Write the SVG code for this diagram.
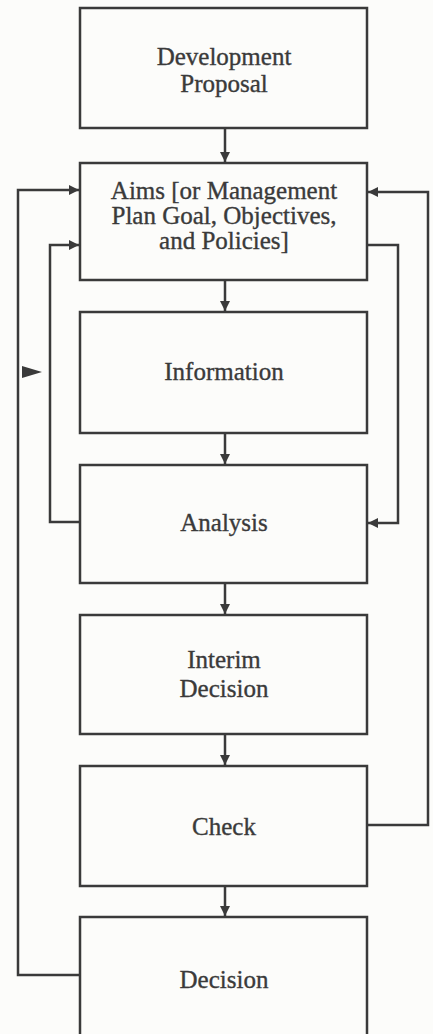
<svg xmlns="http://www.w3.org/2000/svg" width="433" height="1034" viewBox="0 0 433 1034">
<defs>
<style>
.box{fill:none;stroke:#3a3a3a;stroke-width:2.5}
.ln{fill:none;stroke:#3a3a3a;stroke-width:2.5}
.t{font-family:"Liberation Serif","Times New Roman",serif;font-size:25px;fill:#3a3a3a;stroke:#3a3a3a;stroke-width:0.35;text-anchor:middle}
</style>
<marker id="ah" viewBox="0 0 10 10" refX="10" refY="5" markerWidth="5" markerHeight="4" markerUnits="strokeWidth" orient="auto">
<path d="M0,0 L10,5 L0,10 Z" fill="#3a3a3a"/>
</marker>
</defs>
<rect width="433" height="1034" fill="#fcfcfa"/>
<g id="connectors">
<line class="ln" x1="225" y1="128" x2="225" y2="162" marker-end="url(#ah)"/>
<line class="ln" x1="225" y1="280" x2="225" y2="311" marker-end="url(#ah)"/>
<line class="ln" x1="225" y1="433" x2="225" y2="464" marker-end="url(#ah)"/>
<line class="ln" x1="225" y1="583" x2="225" y2="614" marker-end="url(#ah)"/>
<line class="ln" x1="225" y1="734" x2="225" y2="765" marker-end="url(#ah)"/>
<line class="ln" x1="225" y1="886" x2="225" y2="916" marker-end="url(#ah)"/>
<polyline class="ln" points="80,975 18,975 18,190 79,190" marker-end="url(#ah)"/>
<polyline class="ln" points="367,825 428,825 428,192 368,192" marker-end="url(#ah)"/>
<polyline class="ln" points="80,522 50,522 50,245 79,245" marker-end="url(#ah)"/>
<polyline class="ln" points="367,245 398,245 398,523 368,523" marker-end="url(#ah)"/>
<path d="M22,366 L42,372 L22,378 Z" fill="#3a3a3a"/>
</g>
<g id="n1"><rect class="box" x="80" y="8" width="287" height="120"/><text class="t" x="224" y="65">Development</text><text class="t" x="224" y="92">Proposal</text></g>
<g id="n2"><rect class="box" x="80" y="163" width="287" height="117"/><text class="t" x="224" y="199">Aims [or Management</text><text class="t" x="224" y="224">Plan Goal, Objectives,</text><text class="t" x="224" y="249">and Policies]</text></g>
<g id="n3"><rect class="box" x="80" y="312" width="287" height="121"/><text class="t" x="224" y="380">Information</text></g>
<g id="n4"><rect class="box" x="80" y="465" width="287" height="118"/><text class="t" x="224" y="531">Analysis</text></g>
<g id="n5"><rect class="box" x="80" y="615" width="287" height="119"/><text class="t" x="224" y="668">Interim</text><text class="t" x="224" y="697">Decision</text></g>
<g id="n6"><rect class="box" x="80" y="766" width="287" height="120"/><text class="t" x="224" y="835">Check</text></g>
<g id="n7"><rect class="box" x="80" y="917" width="287" height="130"/><text class="t" x="224" y="988">Decision</text></g>
</svg>
